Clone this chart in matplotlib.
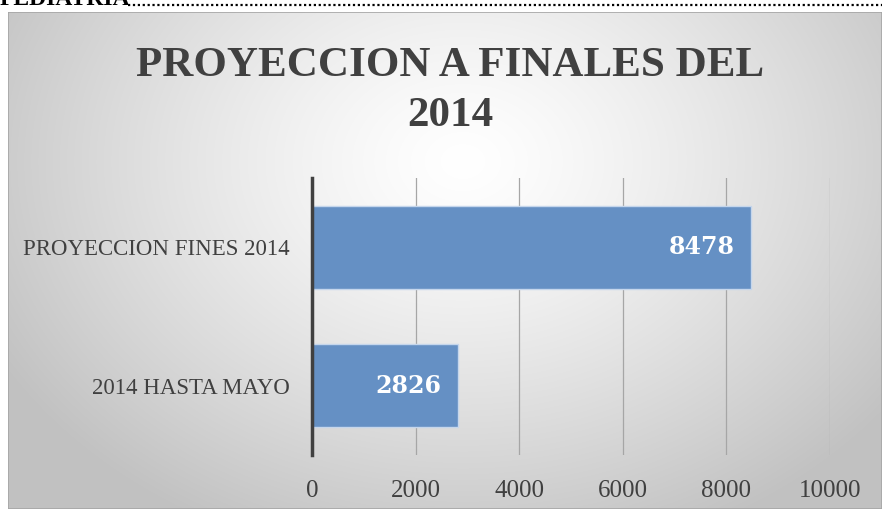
import matplotlib
matplotlib.use("Agg")

import numpy as np
import matplotlib.pyplot as plt
from matplotlib.patches import Rectangle

# data
categorias = ["2014 HASTA MAYO", "PROYECCION FINES 2014"]
valores = [2826, 8478]
ticks_x = [0, 2000, 4000, 6000, 8000, 10000]
titulo = "PROYECCION A FINALES DEL\n2014"

W, H = 882, 509
fig = plt.figure(figsize=(W / 100, H / 100), dpi=100)
fig.patch.set_facecolor("white")

# fondo con degradado radial (area del grafico)
x0, y_top = 8, 12
bg = fig.add_axes([x0 / W, 0, (W - x0) / W, (H - y_top) / H])
gw, gh = W - x0, H - y_top
yy, xx = np.mgrid[0:gh, 0:gw]
r = np.sqrt(((xx - gw * 0.52) / (gw * 0.55)) ** 2 + ((yy - gh * 0.3) / (gh * 0.75)) ** 2)
shade = 1.0 - 0.24 * np.clip(r / 1.1, 0, 1) ** 1.3
bg.imshow(np.dstack([shade] * 3), aspect="auto", extent=[0, 1, 0, 1])
bg.set_xlim(0, 1)
bg.set_ylim(0, 1)
bg.axis("off")
bg.add_patch(Rectangle((0, 0), 1, 1, transform=bg.transAxes, fill=False,
                       edgecolor="#A6A6A6", linewidth=1.2))

# encabezado cortado arriba
fig.text(0.0, 1 - 5 / H, "PEDIATRIA", family="Liberation Serif", weight="bold",
         fontsize=17, va="baseline", ha="left", color="black")
fig.add_artist(plt.Line2D([128 / W, 1.0], [1 - 5 / H, 1 - 5 / H], color="black",
                          linewidth=1.6, linestyle=(0, (1, 1.2))))

# titulo
fig.text(450 / W, 1 - 91 / H, titulo, family="Liberation Serif",
         weight="bold", fontsize=31, ha="center", va="center", color="#404040",
         linespacing=1.4)

ax = fig.add_axes([312 / W, 54 / H, 518 / W, 277 / H])
ax.set_facecolor("none")
pos = np.arange(len(categorias))
ax.barh(pos, valores, height=0.6, color="#6590C4", edgecolor="#C5D6EC",
        linewidth=1.0, zorder=2)

for p, v in zip(pos, valores):
    ax.annotate(str(v), xy=(v, p), xytext=(-12, 0), textcoords="offset points",
                ha="right", va="center", color="white", fontsize=17,
                family="DejaVu Serif", weight="bold", zorder=3)

ax.set_xlim(0, 10000)
ax.set_ylim(-0.5, 1.5)
ax.set_xticks(ticks_x)
ax.set_xticklabels([str(t) for t in ticks_x])
ax.set_yticks(pos)
ax.set_yticklabels(categorias)
ax.grid(axis="x", color="#A6A6A6", linewidth=0.9, zorder=1)
ax.tick_params(axis="both", length=0, labelcolor="#404040")
ax.tick_params(axis="x", pad=18, labelsize=18)
ax.tick_params(axis="y", pad=16, labelsize=16.5)
for lab in ax.get_xticklabels() + ax.get_yticklabels():
    lab.set_family("Liberation Serif")
for s in ["top", "right", "bottom"]:
    ax.spines[s].set_visible(False)
ax.spines["left"].set_color("#404040")
ax.spines["left"].set_linewidth(2.5)
ax.spines["left"].set_zorder(4)

fig.savefig("out.png", dpi=100)
plt.close(fig)
